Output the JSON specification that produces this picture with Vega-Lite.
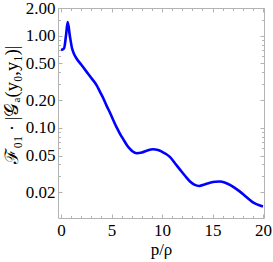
{
  "$schema": "https://vega.github.io/schema/vega-lite/v6.json",
  "width": 206,
  "height": 210,
  "autosize": {"type": "none"},
  "padding": {"left": 58, "top": 8, "right": 9, "bottom": 44},
  "background": "white",
  "config": {
    "view": {"stroke": null},
    "axis": {
      "grid": false,
      "domainColor": "#b3b3b3",
      "tickColor": "#b3b3b3",
      "labelFont": "Liberation Serif",
      "titleFont": "Liberation Serif",
      "labelFontSize": 17,
      "titleFontSize": 17,
      "labelColor": "black",
      "titleColor": "black",
      "titleFontWeight": "normal"
    }
  },
  "data": {"values": [
    {"x": 0, "y": 0.70}, {"x": 0.3, "y": 0.73}, {"x": 0.5, "y": 1.02}, {"x": 0.66, "y": 1.41},
    {"x": 0.86, "y": 1.02}, {"x": 1.09, "y": 0.73}, {"x": 1.3, "y": 0.63}, {"x": 1.52, "y": 0.57},
    {"x": 2.01, "y": 0.484}, {"x": 2.5, "y": 0.41}, {"x": 3.0, "y": 0.347}, {"x": 3.5, "y": 0.293},
    {"x": 3.86, "y": 0.246}, {"x": 4.16, "y": 0.212}, {"x": 4.52, "y": 0.173}, {"x": 4.85, "y": 0.146},
    {"x": 5.18, "y": 0.121}, {"x": 5.51, "y": 0.101}, {"x": 5.84, "y": 0.0861}, {"x": 6.17, "y": 0.075},
    {"x": 6.51, "y": 0.0653}, {"x": 6.83, "y": 0.0591}, {"x": 7.1, "y": 0.0553}, {"x": 7.5, "y": 0.053},
    {"x": 8.0, "y": 0.054}, {"x": 8.5, "y": 0.0565}, {"x": 9.1, "y": 0.0585}, {"x": 9.6, "y": 0.0575},
    {"x": 10.0, "y": 0.055}, {"x": 10.4, "y": 0.052}, {"x": 10.8, "y": 0.048}, {"x": 11.3, "y": 0.041},
    {"x": 11.8, "y": 0.035}, {"x": 12.3, "y": 0.030}, {"x": 12.8, "y": 0.026}, {"x": 13.2, "y": 0.0242},
    {"x": 13.7, "y": 0.0234}, {"x": 14.2, "y": 0.0243}, {"x": 14.75, "y": 0.0254}, {"x": 15.3, "y": 0.026},
    {"x": 15.74, "y": 0.0261}, {"x": 16.2, "y": 0.0255}, {"x": 16.73, "y": 0.024}, {"x": 17.2, "y": 0.0223},
    {"x": 17.72, "y": 0.0203}, {"x": 18.2, "y": 0.0183}, {"x": 18.7, "y": 0.0165}, {"x": 19.1, "y": 0.0153},
    {"x": 19.5, "y": 0.0146}, {"x": 20.0, "y": 0.014}
  ]},
  "resolve": {"axis": {"x": "independent", "y": "independent"}},
  "layer": [
    {
      "mark": {"type": "line", "color": "#0000ff", "strokeWidth": 2.6, "interpolate": "monotone"},
      "encoding": {
        "x": {"field": "x", "type": "quantitative",
          "scale": {"domain": [-0.3, 20.1], "nice": false, "zero": false},
          "axis": {"orient": "bottom", "values": [0, 5, 10, 15, 20], "tickSize": -4, "labelPadding": 8, "title": "p/ρ", "titlePadding": 3}},
        "y": {"field": "y", "type": "quantitative",
          "scale": {"type": "log", "domain": [0.0105, 2.0], "nice": false},
          "axis": {"orient": "left", "values": [0.02, 0.05, 0.1, 0.2, 0.5, 1, 2], "format": ".2f", "tickSize": -4, "labelPadding": 7, "title": "ℱ₀₁ · |𝒢ₐ(y₀,y₁)|", "titleFontSize": 18.5, "titlePadding": 4, "titleY": 96}}
      }
    },
    {
      "mark": {"type": "line", "strokeOpacity": 0},
      "encoding": {
        "x": {"field": "x", "type": "quantitative",
          "axis": {"orient": "bottom", "values": [1,2,3,4,6,7,8,9,11,12,13,14,16,17,18,19], "tickSize": -2.5, "labels": false, "domain": false, "title": null}},
        "y": {"field": "y", "type": "quantitative",
          "axis": {"orient": "left", "values": [0.03,0.04,0.06,0.07,0.08,0.09,0.3,0.4,0.6,0.7,0.8,0.9,1.5], "tickSize": -2.5, "labels": false, "domain": false, "title": null}}
      }
    },
    {
      "mark": {"type": "line", "strokeOpacity": 0},
      "encoding": {
        "x": {"field": "x", "type": "quantitative",
          "axis": {"orient": "top", "values": [0, 5, 10, 15, 20], "tickSize": -4, "labels": false, "title": null}},
        "y": {"field": "y", "type": "quantitative",
          "axis": {"orient": "right", "values": [0.02, 0.05, 0.1, 0.2, 0.5, 1, 2], "tickSize": -4, "labels": false, "title": null}}
      }
    },
    {
      "mark": {"type": "line", "strokeOpacity": 0},
      "encoding": {
        "x": {"field": "x", "type": "quantitative",
          "axis": {"orient": "top", "values": [1,2,3,4,6,7,8,9,11,12,13,14,16,17,18,19], "tickSize": -2.5, "labels": false, "domain": false, "title": null}},
        "y": {"field": "y", "type": "quantitative",
          "axis": {"orient": "right", "values": [0.03,0.04,0.06,0.07,0.08,0.09,0.3,0.4,0.6,0.7,0.8,0.9,1.5], "tickSize": -2.5, "labels": false, "domain": false, "title": null}}
      }
    }
  ]
}
